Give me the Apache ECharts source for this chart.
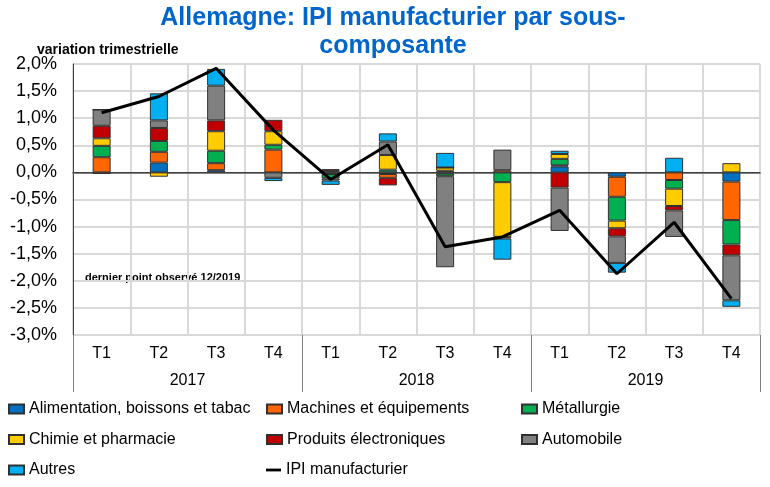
<!DOCTYPE html>
<html>
<head>
<meta charset="utf-8">
<script src="https://cdn.jsdelivr.net/npm/echarts@6/dist/echarts.min.js"></script>
<style>
html,body{margin:0;padding:0;background:#fff;}
#c{width:770px;height:487px;}
</style>
</head>
<body>
<div id="c"></div>
<script>
const quarters = ['T1','T2','T3','T4','T1','T2','T3','T4','T1','T2','T3','T4'];
const years = ['2017','2018','2019'];
const alimentation = [-0.03, 0.18, 0.04, 0.00, -0.03, -0.03, -0.02, 0.00, 0.11, -0.08, 0.00, -0.17];
const machines     = [0.28, 0.20, 0.13, 0.42, 0.02, -0.07, 0.03, 0.04, 0.02, -0.37, -0.14, -0.71];
const metallurgie  = [0.21, 0.20, 0.23, 0.09, -0.08, 0.05, -0.05, -0.18, 0.12, -0.44, -0.16, -0.45];
const chimie       = [0.14, -0.08, 0.36, 0.25, 0.01, 0.27, 0.06, -1.01, 0.09, -0.14, -0.32, 0.17];
const electronique = [0.23, 0.24, 0.20, 0.21, 0.03, -0.14, 0.00, -0.03, -0.28, -0.15, -0.08, -0.20];
const automobile   = [0.30, 0.14, 0.64, -0.10, -0.04, 0.25, -1.68, 0.38, -0.80, -0.49, -0.49, -0.83];
const autres       = [0.00, 0.50, 0.31, -0.06, -0.08, 0.15, 0.27, -0.39, 0.06, -0.18, 0.27, -0.12];
const ipi          = [1.10, 1.40, 1.92, 0.78, -0.13, 0.51, -1.37, -1.19, -0.70, -1.87, -0.92, -2.33];
const yTicks = {min: -3, max: 2, interval: 0.5};

const FONT = 'Liberation Sans, Arial, sans-serif';
const chart = echarts.init(document.getElementById('c'));

function barSeries(name, data, color) {
  return {
    name: name, type: 'bar', stack: 'total', data: data, barWidth: 18,
    itemStyle: {color: color, borderColor: '#303030', borderWidth: 1},
    emphasis: {disabled: true}, animation: false
  };
}

const legendText = {fontSize: 16, color: '#000', fontFamily: FONT};
function legend(left, top, data, extra) {
  return Object.assign({
    left: left, top: top, orient: 'vertical', itemGap: 14.5,
    itemWidth: 15, itemHeight: 9, textStyle: legendText, icon: 'rect',
    data: data, selectedMode: false, padding: 0
  }, extra || {});
}

const option = {
  animation: false,
  title: {
    text: 'Allemagne: IPI manufacturier par sous-\ncomposante',
    left: 393, top: 4, textAlign: 'center', padding: 0,
    textStyle: {fontSize: 25, fontWeight: 'bold', color: '#0066CC', fontFamily: FONT, lineHeight: 28}
  },
  graphic: [
    {type: 'text', left: 37, top: 43, style: {text: 'variation trimestrielle', font: 'bold 14px ' + FONT, fill: '#000'}},
    {type: 'text', left: 85, top: 272, style: {text: 'dernier point observé 12/2019', font: 'bold 11px ' + FONT, fill: '#000'}}
  ],
  legend: [
    legend(8, 401, ['Alimentation, boissons et tabac', 'Chimie et pharmacie', 'Autres']),
    legend(266, 401, ['Machines et équipements', 'Produits électroniques']),
    legend(521, 401, ['Métallurgie', 'Automobile']),
    legend(266, 462, [{name: 'IPI manufacturier', icon: 'path://M0,0 L16,0 L16,3 L0,3 Z', itemStyle: {color: '#000', borderWidth: 0}}], {symbolKeepAspect: true})
  ],
  grid: {left: 73, right: 10, top: 64, bottom: 152, show: true, borderColor: '#404040', borderWidth: 1, containLabel: false},
  xAxis: [
    {
      type: 'category', data: quarters, position: 'bottom',
      axisLine: {show: true, lineStyle: {color: '#808080', width: 2}},
      axisTick: {show: false},
      axisLabel: {fontSize: 16, color: '#000', fontFamily: FONT, margin: 11},
      splitLine: {show: true, lineStyle: {color: '#d9d9d9', width: 2}}
    },
    {
      type: 'category', data: years, position: 'bottom',
      axisLine: {show: false},
      axisTick: {show: true, length: 57, lineStyle: {color: '#808080', width: 1}},
      axisLabel: {fontSize: 16, color: '#000', fontFamily: FONT, margin: 38},
      splitLine: {show: false}
    }
  ],
  yAxis: {
    type: 'value', min: yTicks.min, max: yTicks.max, interval: yTicks.interval,
    axisLine: {show: true, lineStyle: {color: '#404040'}},
    axisTick: {show: false},
    axisLabel: {
      fontSize: 18, color: '#000', fontFamily: FONT, margin: 16,
      formatter: function (v) { var s = Math.abs(v) < 1e-9 ? 0 : v; return s.toFixed(1).replace('.', ',') + '%'; }
    },
    splitLine: {show: true, lineStyle: {color: '#d9d9d9', width: 2}}
  },
  series: [
    barSeries('Alimentation, boissons et tabac', alimentation, '#0070C0'),
    barSeries('Machines et équipements', machines, '#FF6600'),
    barSeries('Métallurgie', metallurgie, '#00B050'),
    barSeries('Chimie et pharmacie', chimie, '#FFCC00'),
    barSeries('Produits électroniques', electronique, '#C00000'),
    barSeries('Automobile', automobile, '#808080'),
    barSeries('Autres', autres, '#00B0F0'),
    {
      name: 'IPI manufacturier', type: 'line', data: ipi, symbol: 'none', showSymbol: false,
      lineStyle: {color: '#000', width: 3}, itemStyle: {color: '#000'}, z: 5,
      emphasis: {disabled: true},
      markLine: {
        silent: true, symbol: ['none', 'none'], label: {show: false},
        lineStyle: {color: '#404040', width: 1, type: 'solid'},
        data: [{yAxis: 0}], animation: false
      }
    }
  ]
};
chart.setOption(option);
</script>
</body>
</html>
